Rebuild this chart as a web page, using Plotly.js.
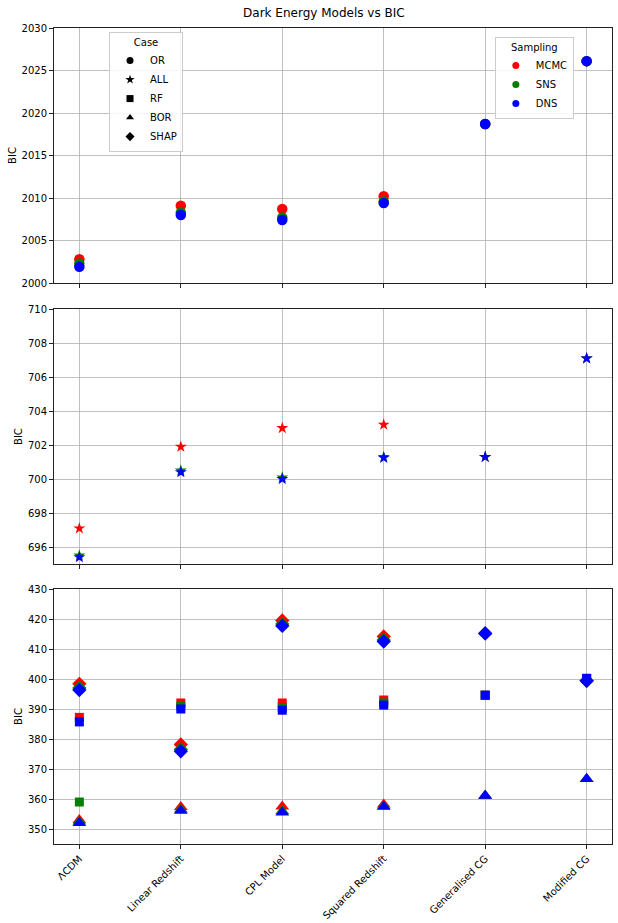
<!DOCTYPE html>
<html>
<head>
<meta charset="utf-8">
<script src="https://cdn.plot.ly/plotly-3.0.1.min.js"></script>
<style>
  html, body { margin: 0; padding: 0; background: #fff; }
  #chart { width: 618px; height: 923px; }
</style>
</head>
<body>
<div id="chart"></div>
<script>
// Models along the x axis
const models = ['ΛCDM', 'Linear Redshift', 'CPL Model', 'Squared Redshift', 'Generalised CG', 'Modified CG'];

// Case OR (top panel)
const orMCMC = [2002.8, 2009.1, 2008.7, 2010.2, 2018.7, 2026.1];
const orSNS  = [2002.3, 2008.3, 2007.7, 2009.6, 2018.7, 2026.1];
const orDNS  = [2001.9, 2008.0, 2007.4, 2009.4, 2018.7, 2026.1];

// Case ALL (middle panel)
const allMCMC = [697.1, 701.9, 703.0, 703.2, 701.3, 707.1];
const allSNS  = [695.5, 700.5, 700.1, 701.3, 701.3, 707.1];
const allDNS  = [695.4, 700.4, 700.0, 701.25, 701.3, 707.1];

// Cases RF, BOR, SHAP (bottom panel)
const rfMCMC = [387.2, 392.0, 392.0, 393.0, 394.6, 400.2];
const rfSNS  = [359.0, 391.0, 390.5, 392.0, 394.6, 400.2];
const rfDNS  = [385.7, 390.0, 389.6, 391.3, 394.6, 400.2];

const borMCMC = [353.0, 357.3, 357.5, 358.2, 361.1, 366.7];
const borSNS  = [352.5, 356.5, 356.0, 357.6, 361.1, 366.7];
const borDNS  = [352.0, 356.1, 355.5, 357.4, 361.1, 366.7];

const shapMCMC = [398.4, 378.2, 419.5, 414.2, 415.2, 399.4];
const shapSNS  = [397.0, 376.5, 418.3, 413.0, 415.2, 399.4];
const shapDNS  = [396.3, 375.9, 417.7, 412.5, 415.2, 399.4];

const samplings = ['MCMC', 'SNS', 'DNS'];
const samplingColors = { MCMC: '#ff0000', SNS: '#008000', DNS: '#0000ff' };

const caseNames = ['OR', 'ALL', 'RF', 'BOR', 'SHAP'];
const caseSymbols = { OR: 'circle', ALL: 'star', RF: 'square', BOR: 'triangle-up', SHAP: 'diamond' };
const caseSizes = { OR: 10.5, ALL: 9, RF: 9, BOR: 12, SHAP: 11 };

// which panel each case goes in, and its values per sampling
const caseData = {
    OR:   { panel: 1, MCMC: orMCMC,   SNS: orSNS,   DNS: orDNS },
    ALL:  { panel: 2, MCMC: allMCMC,  SNS: allSNS,  DNS: allDNS },
    RF:   { panel: 3, MCMC: rfMCMC,   SNS: rfSNS,   DNS: rfDNS },
    BOR:  { panel: 3, MCMC: borMCMC,  SNS: borSNS,  DNS: borDNS },
    SHAP: { panel: 3, MCMC: shapMCMC, SNS: shapSNS, DNS: shapDNS }
};

const FONT = 'DejaVu Sans, sans-serif';
const traces = [];

samplings.forEach(s => {
    caseNames.forEach(c => {
        const d = caseData[c];
        const sfx = d.panel === 1 ? '' : String(d.panel);
        traces.push({
            x: models,
            y: d[s],
            xaxis: 'x' + sfx,
            yaxis: 'y' + sfx,
            type: 'scatter',
            mode: 'markers',
            marker: { symbol: caseSymbols[c], size: caseSizes[c], color: samplingColors[s], line: { width: 0 } },
            showlegend: false,
            hoverinfo: 'x+y'
        });
    });
});

// legend entries (no data)
caseNames.forEach(c => {
    traces.push({
        x: [null], y: [null], type: 'scatter', mode: 'markers', name: c,
        marker: { symbol: caseSymbols[c], size: 7, color: '#000' },
        legend: 'legend', showlegend: true
    });
});
samplings.forEach(s => {
    traces.push({
        x: [null], y: [null], type: 'scatter', mode: 'markers', name: s,
        marker: { symbol: 'circle', size: 7, color: samplingColors[s] },
        legend: 'legend2', showlegend: true
    });
});

function xAxis(anchor, labels) {
    return {
        anchor: anchor,
        type: 'category',
        categoryarray: models,
        range: [-0.25, 5.25],
        showgrid: true, gridcolor: '#b0b0b0', gridwidth: 0.8,
        showline: true, mirror: true, linecolor: '#222', linewidth: 1,
        ticks: 'outside', ticklen: 4, tickcolor: '#222',
        showticklabels: labels,
        tickangle: -45,
        tickfont: { family: FONT, size: 10, color: '#000' },
        zeroline: false
    };
}
function yAxis(anchor, domain, range, dtick) {
    return {
        anchor: anchor,
        domain: domain,
        range: range,
        dtick: dtick,
        showgrid: true, gridcolor: '#b0b0b0', gridwidth: 0.8,
        showline: true, mirror: true, linecolor: '#222', linewidth: 1,
        ticks: 'outside', ticklen: 4, tickcolor: '#222',
        tickfont: { family: FONT, size: 10, color: '#000' },
        title: { text: 'BIC', font: { family: FONT, size: 10, color: '#000' }, standoff: 3 },
        zeroline: false
    };
}

const legendStyle = {
    bgcolor: 'rgba(255,255,255,0.85)',
    bordercolor: '#cccccc',
    borderwidth: 1,
    font: { family: FONT, size: 10, color: '#000' },
    itemwidth: 30,
    xanchor: 'left', yanchor: 'top'
};

const layout = {
    width: 618,
    height: 923,
    paper_bgcolor: '#fff',
    plot_bgcolor: '#fff',
    margin: { l: 54, r: 6, t: 28, b: 79 },
    font: { family: FONT, size: 10, color: '#000' },
    title: {
        text: 'Dark Energy Models vs BIC',
        font: { family: FONT, size: 12, color: '#000' },
        xref: 'container', x: 0.524, xanchor: 'center',
        yref: 'container', y: 0.986, yanchor: 'middle'
    },
    xaxis: xAxis('y', false),
    xaxis2: xAxis('y2', false),
    xaxis3: xAxis('y3', true),
    yaxis: yAxis('x', [0.6875, 1], [2000, 2030], 5),
    yaxis2: yAxis('x2', [0.3431, 0.6556], [695, 710], 2),
    yaxis3: yAxis('x3', [0, 0.3125], [345, 430], 10),
    legend: Object.assign({}, legendStyle, {
        x: 0.0986, y: 0.995,
        title: { text: 'Case', side: 'top center', font: { family: FONT, size: 10 } }
    }),
    legend2: Object.assign({}, legendStyle, {
        x: 0.79, y: 0.989,
        title: { text: 'Sampling', side: 'top center', font: { family: FONT, size: 10 } }
    }),
    showlegend: true
};

Plotly.newPlot('chart', traces, layout, { displayModeBar: false, staticPlot: true });
</script>
</body>
</html>
